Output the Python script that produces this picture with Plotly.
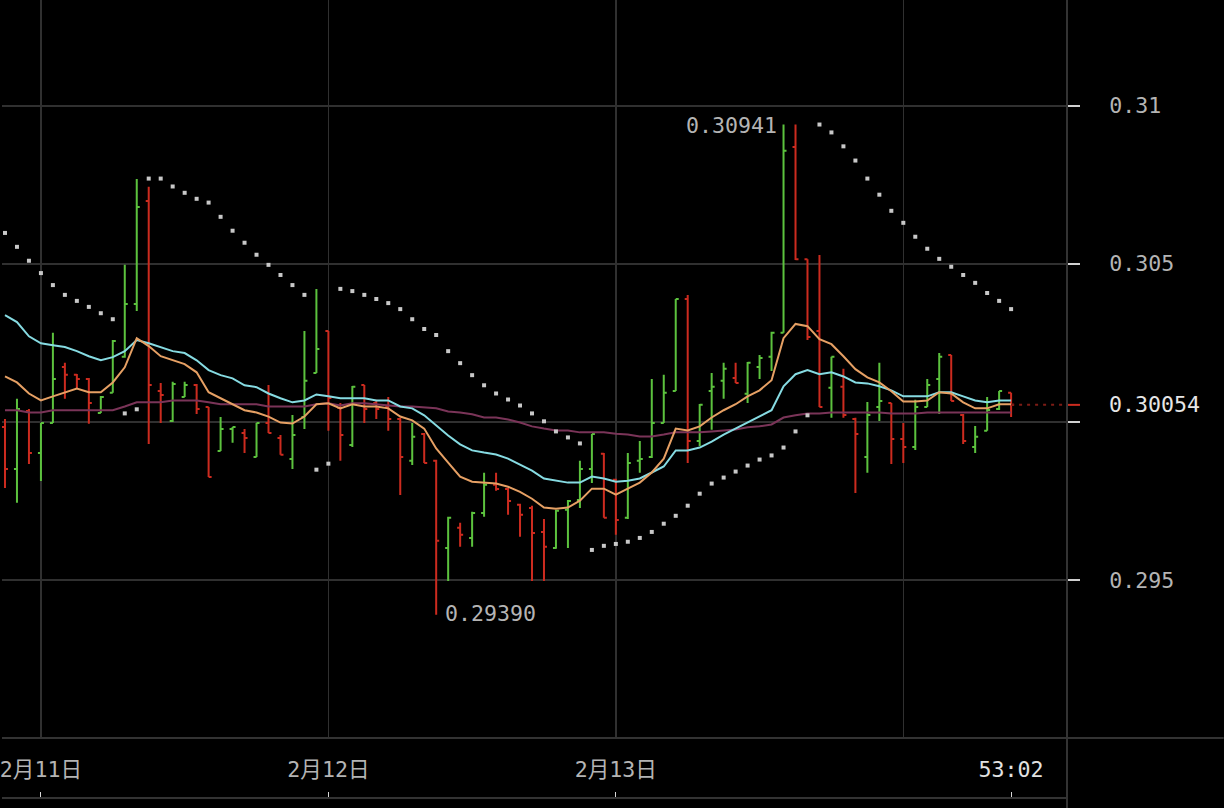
import plotly.graph_objects as go
import pandas as pd
import numpy as np

# ---------------- data (hourly bars) ----------------
times = pd.date_range("2025-02-10 21:00", periods=85, freq="h")

open_ = [.29984, .29851, .30035, .29902, .29997, .30174, .30149, .30136, .30028, .30092,
         .30206, .30373, .30699, .30098, .30003, .30079, .30117, .30047, .29908, .29978,
         .29965, .29889, .29997, .29949, .29883, .30016, .30155, .30288, .30044, .29927,
         .30117, .30060, .30047, .30009, .29877, .29962, .29877, .29601, .29665, .29633,
         .29712, .29801, .29788, .29738, .29728, .29652, .29601, .29722, .29753, .29851,
         .29899, .29817, .29697, .29877, .29889, .29997, .30098, .30389, .29940, .30098,
         .30130, .30139, .30089, .30174, .30206, .30282, .30870, .30515, .30288, .30108,
         .30111, .30009, .29889, .30047, .30060, .29946, .29921, .30047, .30136, .30212,
         .30022, .29921, .29972, .30041, .30092]
high = [.30009, .30073, .30041, .29997, .30282, .30187, .30152, .30139, .30082, .30259,
        .30497, .30769, .30744, .30123, .30127, .30127, .30120, .30047, .30016, .29984,
        .29978, .29997, .30117, .29959, .30022, .30288, .30421, .30288, .30060, .30114,
        .30117, .30070, .30079, .30013, .29997, .29965, .29880, .29700, .29681, .29716,
        .29839, .29839, .29791, .29741, .29735, .29693, .29722, .29753, .29877, .29962,
        .29902, .29820, .29902, .29940, .30136, .30149, .30389, .30402, .30057, .30155,
        .30187, .30187, .30190, .30212, .30285, .30941, .30941, .30515, .30528, .30206,
        .30168, .30013, .30063, .30187, .30060, .29997, .30070, .30136, .30218, .30212,
        .30025, .29987, .30079, .30098, .30092]
low = [.29791, .29744, .29867, .29813, .29997, .30073, .30104, .29994, .30028, .30092,
       .30203, .30351, .29930, .29997, .30000, .30079, .30025, .29826, .29908, .29934,
       .29902, .29889, .29965, .29896, .29851, .29978, .30155, .29972, .29877, .29921,
       .29997, .30009, .29972, .29769, .29864, .29870, .29390, .29497, .29605, .29605,
       .29700, .29782, .29706, .29637, .29497, .29497, .29599, .29601, .29728, .29807,
       .29697, .29643, .29693, .29839, .29886, .29997, .30098, .29870, .29924, .29975,
       .30073, .30123, .30060, .30136, .30161, .30282, .30512, .30259, .30047, .30013,
       .30013, .29775, .29839, .30003, .29867, .29870, .29911, .30047, .30025, .30066,
       .29930, .29902, .29972, .30038, .30016]
close = [.29851, .30041, .29902, .29997, .30136, .30149, .30136, .30060, .30079, .30256,
         .30373, .30680, .30117, .30085, .30120, .30117, .30041, .29826, .29978, .29984,
         .29949, .29997, .29965, .29896, .29959, .30130, .30231, .30076, .29959, .30111,
         .30041, .30041, .30009, .29889, .29953, .29870, .29624, .29697, .29643, .29712,
         .29801, .29788, .29750, .29706, .29649, .29605, .29719, .29750, .29851, .29962,
         .29697, .29690, .29870, .29883, .29997, .30092, .30389, .29940, .30054, .30111,
         .30168, .30123, .30187, .30202, .30282, .30858, .30515, .30269, .30047, .30206,
         .30022, .29962, .30022, .30066, .29946, .29921, .30047, .30117, .30206, .30066,
         .29940, .29953, .30038, .30098, .30054]

ma_fast = [.30144, .30125, .30090, .30068, .30081, .30094, .30106, .30094, .30094, .30125,
           .30173, .30265, .30240, .30208, .30195, .30183, .30157, .30094, .30075, .30056,
           .30037, .30030, .30017, .29998, .29995, .30017, .30056, .30059, .30043, .30056,
           .30049, .30049, .30043, .30017, .30005, .29979, .29916, .29871, .29827, .29811,
           .29808, .29805, .29795, .29779, .29757, .29729, .29725, .29729, .29751, .29789,
           .29789, .29770, .29789, .29808, .29840, .29884, .29979, .29973, .29986, .30014,
           .30037, .30056, .30081, .30100, .30132, .30265, .30310, .30303, .30262, .30246,
           .30208, .30167, .30141, .30125, .30097, .30065, .30065, .30068, .30094, .30090,
           .30062, .30043, .30043, .30056, .30056]
ma_mid = [.30338, .30316, .30271, .30249, .30243, .30237, .30224, .30208, .30195, .30205,
          .30224, .30259, .30249, .30237, .30224, .30218, .30195, .30164, .30148, .30138,
          .30116, .30110, .30090, .30075, .30062, .30068, .30087, .30081, .30075, .30075,
          .30075, .30068, .30068, .30049, .30043, .30021, .29989, .29957, .29929, .29910,
          .29903, .29897, .29884, .29865, .29846, .29821, .29814, .29808, .29808, .29827,
          .29821, .29811, .29814, .29821, .29840, .29859, .29910, .29910, .29919, .29938,
          .29960, .29979, .29998, .30017, .30037, .30113, .30151, .30164, .30151, .30157,
          .30144, .30125, .30122, .30113, .30100, .30081, .30081, .30081, .30094, .30094,
          .30081, .30068, .30062, .30068, .30068]
ma_slow = [.30037, .30037, .30030, .30030, .30037, .30037, .30037, .30037, .30037, .30037,
           .30049, .30062, .30062, .30062, .30068, .30068, .30068, .30062, .30056, .30056,
           .30056, .30056, .30049, .30049, .30049, .30049, .30056, .30059, .30052, .30059,
           .30059, .30056, .30052, .30049, .30049, .30046, .30043, .30033, .30030, .30024,
           .30014, .30014, .30008, .29998, .29986, .29979, .29973, .29973, .29967, .29967,
           .29967, .29963, .29960, .29954, .29954, .29960, .29967, .29967, .29967, .29970,
           .29973, .29976, .29983, .29986, .29992, .30014, .30021, .30027, .30027, .30030,
           .30030, .30030, .30030, .30030, .30027, .30027, .30027, .30030, .30030, .30030,
           .30030, .30030, .30030, .30030, .30030]
sar = [.30598, .30554, .30510, .30471, .30433, .30402, .30383, .30364, .30344, .30325,
       .30027, .30040, .30770, .30770, .30745, .30725, .30706, .30694, .30649, .30605,
       .30567, .30529, .30497, .30465, .30433, .30402, .29849, .29868, .30421, .30414,
       .30402, .30389, .30376, .30357, .30325, .30294, .30275, .30224, .30186, .30148,
       .30116, .30090, .30071, .30052, .30027, .30002, .29970, .29951, .29932, .29595,
       .29608, .29614, .29621, .29633, .29652, .29678, .29703, .29735, .29773, .29805,
       .29824, .29843, .29862, .29881, .29894, .29919, .29970, .30021, .30941, .30916,
       .30872, .30827, .30770, .30719, .30668, .30630, .30586, .30548, .30516, .30491,
       .30465, .30440, .30408, .30383, .30357]

y_tick_vals = [0.295, 0.300, 0.305, 0.310]
y_tick_text = ["0.295", "", "0.305", "0.31"]
grid_days = ["2025-02-11", "2025-02-12", "2025-02-13", "2025-02-14"]
x_label_vals = ["2025-02-11 00:00", "2025-02-12 00:00", "2025-02-13 00:00", "2025-02-14 09:00"]
x_label_text = ["2月11日", "2月12日", "2月13日", '<span style="color:#e2e2e2">53:02</span>']
x_range = ["2025-02-10 20:45", "2025-02-14 13:40"]
y_range = [0.2900, 0.31335]

# ---------------- styling ----------------
GREEN = "#5cc23e"
RED = "#cc2b1f"
CYAN = "#86dbe2"
ORANGE = "#e6a064"
PURPLE = "#7a3458"
GRID = "#303030"
FRAME = "#333333"
LABEL = "#b4b4b4"
FONT = "DejaVu Sans Mono, Noto Sans CJK SC, monospace"
FS = 21.6

W, H = 1224, 808
ML, MR, MT, MB = 0, 157, 0, 10
PW, PH = W - ML - MR, H - MT - MB
AXIS_BAND = 60
ydom0 = AXIS_BAND / PH

fig = go.Figure()
fig.add_trace(go.Ohlc(
    x=times, open=open_, high=high, low=low, close=close,
    increasing=dict(line=dict(color=GREEN, width=2)),
    decreasing=dict(line=dict(color=RED, width=2)),
    tickwidth=0.25, hoverinfo="skip", showlegend=False))
for vals, col in [(ma_slow, PURPLE), (ma_mid, CYAN), (ma_fast, ORANGE)]:
    fig.add_trace(go.Scatter(x=times, y=vals, mode="lines",
                             line=dict(color=col, width=2), hoverinfo="skip", showlegend=False))
fig.add_trace(go.Scatter(x=times, y=sar, mode="markers",
                         marker=dict(symbol="square", size=4, color="#c8c8c8", line=dict(width=0)),
                         hoverinfo="skip", showlegend=False))
# invisible helper so the bottom time axis is rendered
fig.add_trace(go.Scatter(x=times, y=close, xaxis="x2", mode="lines", line=dict(width=0),
                         opacity=0, hoverinfo="skip", showlegend=False))

imax = int(np.argmax(high))
imin = int(np.argmin(low))
annotations = [
    dict(x=times[imax], y=high[imax], text=f"{high[imax]:.5f}", xanchor="right", yanchor="middle",
         xshift=-5, yshift=-1, showarrow=False, font=dict(family=FONT, size=FS, color=LABEL)),
    dict(x=times[imin], y=low[imin], text=f"{low[imin]:.5f}", xanchor="left", yanchor="middle",
         xshift=7, yshift=1, showarrow=False, font=dict(family=FONT, size=FS, color=LABEL)),
    dict(xref="paper", x=1, y=close[-1], text=f"{close[-1]:.5f}", xanchor="left", yanchor="middle",
         xshift=40, showarrow=False, font=dict(family=FONT, size=FS, color="#e6e6e6")),
]

shapes = [
    dict(type="line", xref="x", yref="y", x0=times[-1], x1=x_range[1], y0=close[-1], y1=close[-1],
         line=dict(color="#7d1c16", width=2, dash="3px,5px"), layer="above"),
    dict(type="line", xref="paper", yref="y", x0=1, x1=1 + 13 / PW, y0=close[-1], y1=close[-1],
         line=dict(color=RED, width=2)),
    dict(type="line", xref="paper", yref="paper", x0=0, x1=W / PW, y0=ydom0, y1=ydom0,
         line=dict(color=FRAME, width=2)),
    dict(type="line", xref="paper", yref="paper", x0=0, x1=1, y0=0, y1=0,
         line=dict(color=FRAME, width=2)),
    dict(type="line", xref="paper", yref="paper", x0=1, x1=1, y0=-MB / PH, y1=1,
         line=dict(color=FRAME, width=2)),
]

fig.update_layout(
    width=W, height=H, autosize=False,
    margin=dict(l=ML, r=MR, t=MT, b=MB, pad=0),
    paper_bgcolor="#000000", plot_bgcolor="#000000",
    showlegend=False, hovermode=False,
    annotations=annotations, shapes=shapes,
    xaxis=dict(type="date", range=x_range, domain=[0, 1], anchor="y",
               tickmode="array", tickvals=grid_days, showticklabels=False, ticks="",
               showgrid=True, gridcolor=GRID, gridwidth=1.5, showline=False, zeroline=False,
               rangeslider=dict(visible=False), fixedrange=True),
    xaxis2=dict(type="date", range=x_range, overlaying="x", anchor="free", position=0, side="bottom",
                tickmode="array", tickvals=x_label_vals, ticktext=x_label_text,
                ticks="inside", ticklen=6, tickwidth=1, tickcolor="#d8d8d8",
                ticklabelposition="inside", ticklabelstandoff=12, ticklabeloverflow="allow",
                tickfont=dict(family=FONT, size=FS, color=LABEL),
                showgrid=False, showline=False, zeroline=False, fixedrange=True),
    yaxis=dict(domain=[ydom0, 1], range=y_range, side="right", anchor="x",
               tickmode="array", tickvals=y_tick_vals, ticktext=y_tick_text,
               ticks="outside", ticklen=12, tickwidth=2, tickcolor="#d0d0d0",
               ticklabelstandoff=25,
               tickfont=dict(family=FONT, size=FS, color=LABEL),
               showgrid=True, gridcolor=GRID, gridwidth=1.5, showline=False, zeroline=False,
               fixedrange=True),
)

fig.write_html("out.html", config={"displayModeBar": False, "staticPlot": True},
               post_script="document.body.style.margin='0';document.body.style.background='#000';")
